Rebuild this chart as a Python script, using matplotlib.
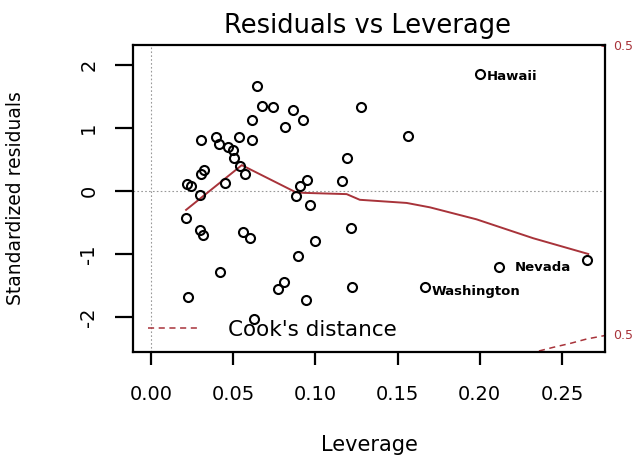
import matplotlib
matplotlib.use("Agg")
import matplotlib.pyplot as plt

plt.rcParams["axes.unicode_minus"] = False

# leverage / standardized residual pairs
leverage = [0.0646, 0.0677, 0.0744, 0.0866, 0.0927, 0.0617, 0.0815, 0.1280, 0.1565, 0.0304,
            0.0395, 0.0416, 0.0470, 0.0500, 0.0537, 0.0617, 0.0505, 0.1190, 0.0322, 0.0305,
            0.0540, 0.0572, 0.0450, 0.0221, 0.0241, 0.0947, 0.0906, 0.1160, 0.0880, 0.0967,
            0.0298, 0.0213, 0.0298, 0.0314, 0.0562, 0.0602, 0.1215, 0.1000, 0.0897, 0.0420,
            0.0775, 0.0806, 0.1220, 0.0227, 0.0943, 0.0627, 0.1667, 0.2001, 0.2117, 0.2650]
std_resid = [1.67, 1.35, 1.33, 1.29, 1.13, 1.13, 1.01, 1.33, 0.88, 0.81,
             0.85, 0.74, 0.70, 0.65, 0.85, 0.81, 0.52, 0.53, 0.33, 0.27,
             0.39, 0.27, 0.13, 0.11, 0.08, 0.17, 0.08, 0.16, -0.08, -0.23,
             -0.06, -0.43, -0.62, -0.70, -0.65, -0.75, -0.59, -0.79, -1.03, -1.28,
             -1.55, -1.44, -1.52, -1.68, -1.73, -2.04, -1.52, 1.85, -1.21, -1.10]

smooth_x = [0.0213, 0.0552, 0.0880, 0.0930, 0.1190, 0.1270, 0.1555, 0.1697, 0.1980, 0.2325, 0.2660]
smooth_y = [-0.30, 0.41, -0.02, -0.03, -0.05, -0.14, -0.19, -0.26, -0.45, -0.75, -1.00]

cook_h = [0.236, 0.245, 0.255, 0.265, 0.277]
cook_y = [-2.54, -2.48, -2.42, -2.35, -2.29]

labels = ["Hawaii", "Nevada", "Washington"]
label_x = [0.2044, 0.2214, 0.1709]
label_y = [1.82, -1.22, -1.60]

xticks = [0.00, 0.05, 0.10, 0.15, 0.20, 0.25]
xtick_labels = ["0.00", "0.05", "0.10", "0.15", "0.20", "0.25"]
yticks = [-2, -1, 0, 1, 2]
ytick_labels = ["-2", "-1", "0", "1", "2"]

RED = "#a8333a"

fig = plt.figure(figsize=(6.33, 4.57), dpi=100)
ax = fig.add_axes([133 / 633, 1 - 352 / 457, 472 / 633, 307 / 457])

ax.axhline(0, color="#999999", lw=0.8, ls=(0, (1.5, 2)), zorder=1)
ax.axvline(0, color="#999999", lw=0.8, ls=(0, (1.5, 2)), zorder=1)

ax.plot(leverage, std_resid, "o", mfc="none", mec="black", ms=6.5, mew=1.5, zorder=3)
ax.plot(smooth_x, smooth_y, color=RED, lw=1.4, zorder=2)
ax.plot(cook_h, cook_y, color=RED, lw=1.1, ls=(0, (4, 3)), zorder=2,
        label="Cook's distance")
ax.plot(cook_h, [-v for v in cook_y], color=RED, lw=1.1, ls=(0, (4, 3)), zorder=2)

for name, tx, ty in zip(labels, label_x, label_y):
    ax.text(tx, ty, name, fontsize=9.5, fontweight="bold", ha="left", va="center")

# contour level labels on the right margin
ax.text(0.2812, -cook_y[-1], "0.5", color=RED, fontsize=9, ha="left", va="center", clip_on=False)
ax.text(0.2812, cook_y[-1], "0.5", color=RED, fontsize=9, ha="left", va="center", clip_on=False)

ax.set_xlim(-0.011, 0.2762)
ax.set_ylim(-2.556, 2.317)

ax.set_xticks(xticks)
ax.set_xticklabels(xtick_labels, fontsize=14)
ax.set_yticks(yticks)
ax.set_yticklabels(ytick_labels, fontsize=14, rotation=90, va="center")
ax.tick_params(axis="x", length=9.5, width=1.6, pad=14)
ax.tick_params(axis="y", length=13, width=1.6, pad=12)

for s in ax.spines.values():
    s.set_linewidth(1.6)

ax.set_xlabel("Leverage", fontsize=15)
ax.xaxis.set_label_coords(0.5, -0.27)
ax.set_ylabel("Standardized residuals", fontsize=13.5)
ax.yaxis.set_label_coords(-0.229, 0.5)

fig.text(367 / 633, 1 - 33 / 457, "Residuals vs Leverage", fontsize=18.5,
         ha="center", va="baseline")

ax.legend(loc="center left", bbox_to_anchor=(0.032, 0.072), frameon=False,
          fontsize=15.5, handlelength=2.3, handletextpad=1.4,
          borderpad=0, borderaxespad=0)

fig.savefig("out.png", dpi=100)
